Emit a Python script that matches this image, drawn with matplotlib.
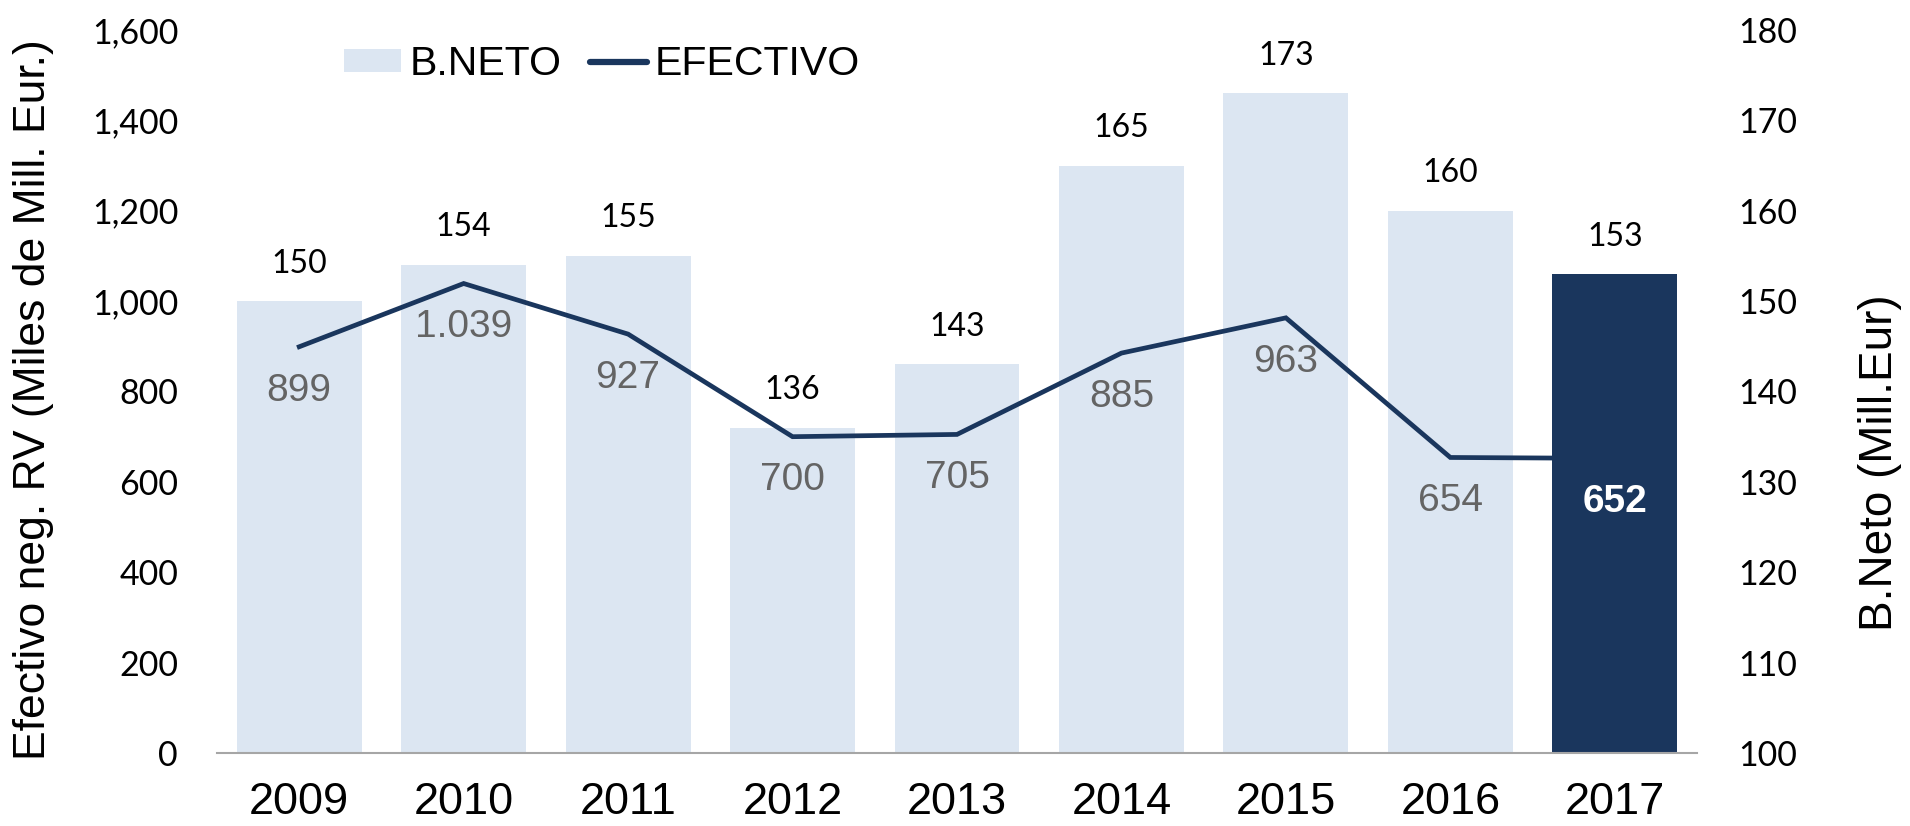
import matplotlib
matplotlib.use("Agg")
import matplotlib.pyplot as plt
from matplotlib.patches import Patch
from matplotlib.lines import Line2D

# Data
years = ["2009", "2010", "2011", "2012", "2013", "2014", "2015", "2016", "2017"]
b_neto = [150, 154, 155, 136, 143, 165, 173, 160, 153]          # Mill. Eur (right axis)
efectivo = [899, 1039, 927, 700, 705, 885, 963, 654, 652]        # Miles de Mill. Eur (left axis)
efectivo_labels = ["899", "1.039", "927", "700", "705", "885", "963", "654", "652"]
left_ticks = [0, 200, 400, 600, 800, 1000, 1200, 1400, 1600]
right_ticks = [100, 110, 120, 130, 140, 150, 160, 170, 180]

LIGHT = "#DCE6F2"
DARK = "#1A365D"
GRAY_TXT = "#646464"
NUM_FONT = ["Lato", "DejaVu Sans"]
ARIAL = ["Liberation Sans", "DejaVu Sans"]

W, H = 1910, 826
AX_L, AX_R, AX_T, AX_B = 217, 1697, 30, 753   # plot area in pixels

fig = plt.figure(figsize=(W / 100, H / 100), dpi=100)
ax = fig.add_axes([AX_L / W, 1 - AX_B / H, (AX_R - AX_L) / W, (AX_B - AX_T) / H])
ax2 = ax.twinx()

x = list(range(len(years)))

# Bars on the right axis
colors = [LIGHT] * (len(years) - 1) + [DARK]
ax2.bar(x, [v - 100 for v in b_neto], bottom=100, width=0.76, color=colors, zorder=1)
ax2.set_ylim(100, 180)
ax2.set_yticks(right_ticks)

for xi, v in zip(x, b_neto):
    ax2.annotate(str(v), (xi, v), xytext=(0, 27), textcoords="offset points",
                 ha="center", va="center", fontsize=23, family=NUM_FONT, color="black")

# Line on the left axis, drawn above the bars
ax.set_zorder(ax2.get_zorder() + 1)
ax.patch.set_visible(False)
ax.plot(x, efectivo, color=DARK, lw=3.4, solid_joinstyle="miter", zorder=3)
ax.set_ylim(0, 1600)
ax.set_xlim(-0.5, len(years) - 0.5)
ax.set_yticks(left_ticks)
ax.set_yticklabels([f"{t:,}" for t in left_ticks])

for i, (xi, v, lab) in enumerate(zip(x, efectivo, efectivo_labels)):
    last = i == len(years) - 1
    ax.annotate(lab, (xi, v), xytext=(0, -31.5), textcoords="offset points",
                ha="center", va="center", fontsize=28, family=ARIAL,
                color="white" if last else GRAY_TXT,
                fontweight="bold" if last else "normal")

ax.set_xticks(x)
ax.set_xticklabels(years)

for a in (ax, ax2):
    for s in ("top", "right", "left", "bottom"):
        a.spines[s].set_visible(False)
ax.spines["bottom"].set_visible(True)
ax.spines["bottom"].set_color("#A6A6A6")
ax.spines["bottom"].set_linewidth(1.5)

ax.tick_params(axis="y", length=0, pad=28, labelsize=24.5)
ax.tick_params(axis="x", length=0, pad=21, labelsize=32.5)
ax2.tick_params(axis="y", length=0, pad=30, labelsize=24.5)
for lab in ax.get_yticklabels() + ax2.get_yticklabels():
    lab.set_family(NUM_FONT)
for lab in ax.get_xticklabels():
    lab.set_family(ARIAL)

span_x = AX_R - AX_L
span_y = AX_B - AX_T
ax.set_ylabel("Efectivo neg. RV (Miles de Mill. Eur.)", fontsize=32, family=ARIAL)
ax.yaxis.set_label_coords((54 - AX_L) / span_x, (AX_B - 400) / span_y)
ax2.set_ylabel("B.Neto (Mill.Eur)", fontsize=33, family=ARIAL)
ax2.yaxis.set_label_coords((1858 - AX_L) / span_x, (AX_B - 463) / span_y)

handles = [Patch(facecolor=LIGHT, edgecolor="none", label="B.NETO"),
           Line2D([0], [0], color=DARK, lw=4.5, solid_capstyle="round", label="EFECTIVO")]
fig.legend(handles=handles, loc="center left", bbox_to_anchor=(344 / W, 1 - 64 / H),
           ncol=2, frameon=False, prop={"family": ARIAL, "size": 29.5},
           handlelength=1.4, handleheight=0.52, handletextpad=0.19, columnspacing=0.7,
           borderpad=0, borderaxespad=0)

fig.savefig("out.png", dpi=100)
